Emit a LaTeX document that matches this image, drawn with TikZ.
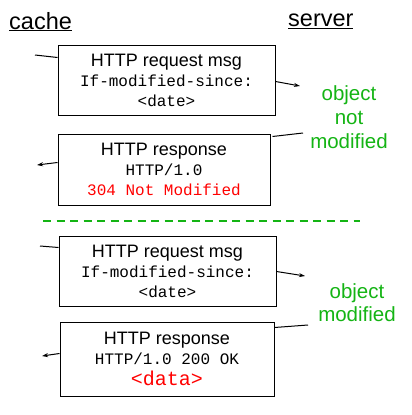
\documentclass[tikz,border=0pt]{standalone}
\usepackage{fontspec}
\setmainfont{Liberation Sans}
\setmonofont{Liberation Mono}
\usetikzlibrary{arrows.meta,calc}
\definecolor{objgreen}{RGB}{20,180,20}
\tikzset{
  msgbox/.style={draw,line width=1pt,align=center,inner sep=0pt,
    font=\fontsize{18}{20}\selectfont},
  side/.style={font=\fontsize{23.5}{24}\selectfont},
  status/.style={align=center,text=objgreen,font=\fontsize{20.5}{24}\selectfont},
  stub/.style={line width=1pt},
  toarrow/.style={line width=1pt,-{Stealth[length=6pt,width=4pt]}},
}
\newcommand{\msgline}[1]{{\ttfamily\fontsize{16}{20}\selectfont #1}}
\begin{document}
\begin{tikzpicture}[x=1pt,y=-1pt]
\useasboundingbox (0,0) rectangle (412,415);
% column heads
\node[side,anchor=base west,inner sep=0pt] (cache) at (9,29) {\underline{cache}};
\node[side,anchor=base west,inner sep=0pt] (server) at (288,27) {\underline{server}};
% not modified case
\node[msgbox,minimum width=217,minimum height=70] (req1) at (166.5,80)
  {HTTP request msg\\ \msgline{If-modified-since:}\\ \msgline{<date>}};
\node[msgbox,minimum width=212,minimum height=71] (resp1) at (164,169.5)
  {HTTP response\\ \msgline{HTTP/1.0}\\ \msgline{\textcolor{red}{304 Not Modified}}};
\node[status] (nomod) at (349,117) {object\\not\\modified};
\coordinate (c1) at (35,55);
\coordinate (s1) at (300,86);
\coordinate (s2) at (303,133);
\coordinate (c2) at (37,165);
\draw[stub] (c1) -- ($(req1.north west)+(0,13)$);
\draw[toarrow] ($(req1.north east)+(0,37)$) -- (s1);
\draw[stub] (s2) -- ($(resp1.north east)+(2,3)$);
\draw[toarrow] ($(resp1.north west)+(0,29)$) -- (c2);
% divider
\draw[objgreen,line width=2pt,dash pattern=on 8pt off 5.5pt] (43,221) -- (360,221);
% modified case
\node[msgbox,minimum width=217,minimum height=70] (req2) at (167.5,271)
  {HTTP request msg\\ \msgline{If-modified-since:}\\ \msgline{<date>}};
\node[msgbox,minimum width=214,minimum height=74] (resp2) at (167,359)
  {HTTP response\\ \msgline{HTTP/1.0 200 OK}\\[1pt]
   {\ttfamily\fontsize{20}{22}\selectfont\textcolor{red}{<data>}}};
\node[status,font=\fontsize{20.5}{23}\selectfont] (mod) at (357,302.5) {object\\modified};
\coordinate (c3) at (40,246);
\coordinate (s3) at (305,276);
\coordinate (s4) at (308,325);
\coordinate (c4) at (42,356);
\draw[stub] (c3) -- ($(req2.north west)+(0,12)$);
\draw[toarrow] ($(req2.north east)+(0,36)$) -- (s3);
\draw[stub] (s4) -- ($(resp2.north east)+(0,6)$);
\draw[toarrow] ($(resp2.north west)+(0,32)$) -- (c4);
\end{tikzpicture}
\end{document}
